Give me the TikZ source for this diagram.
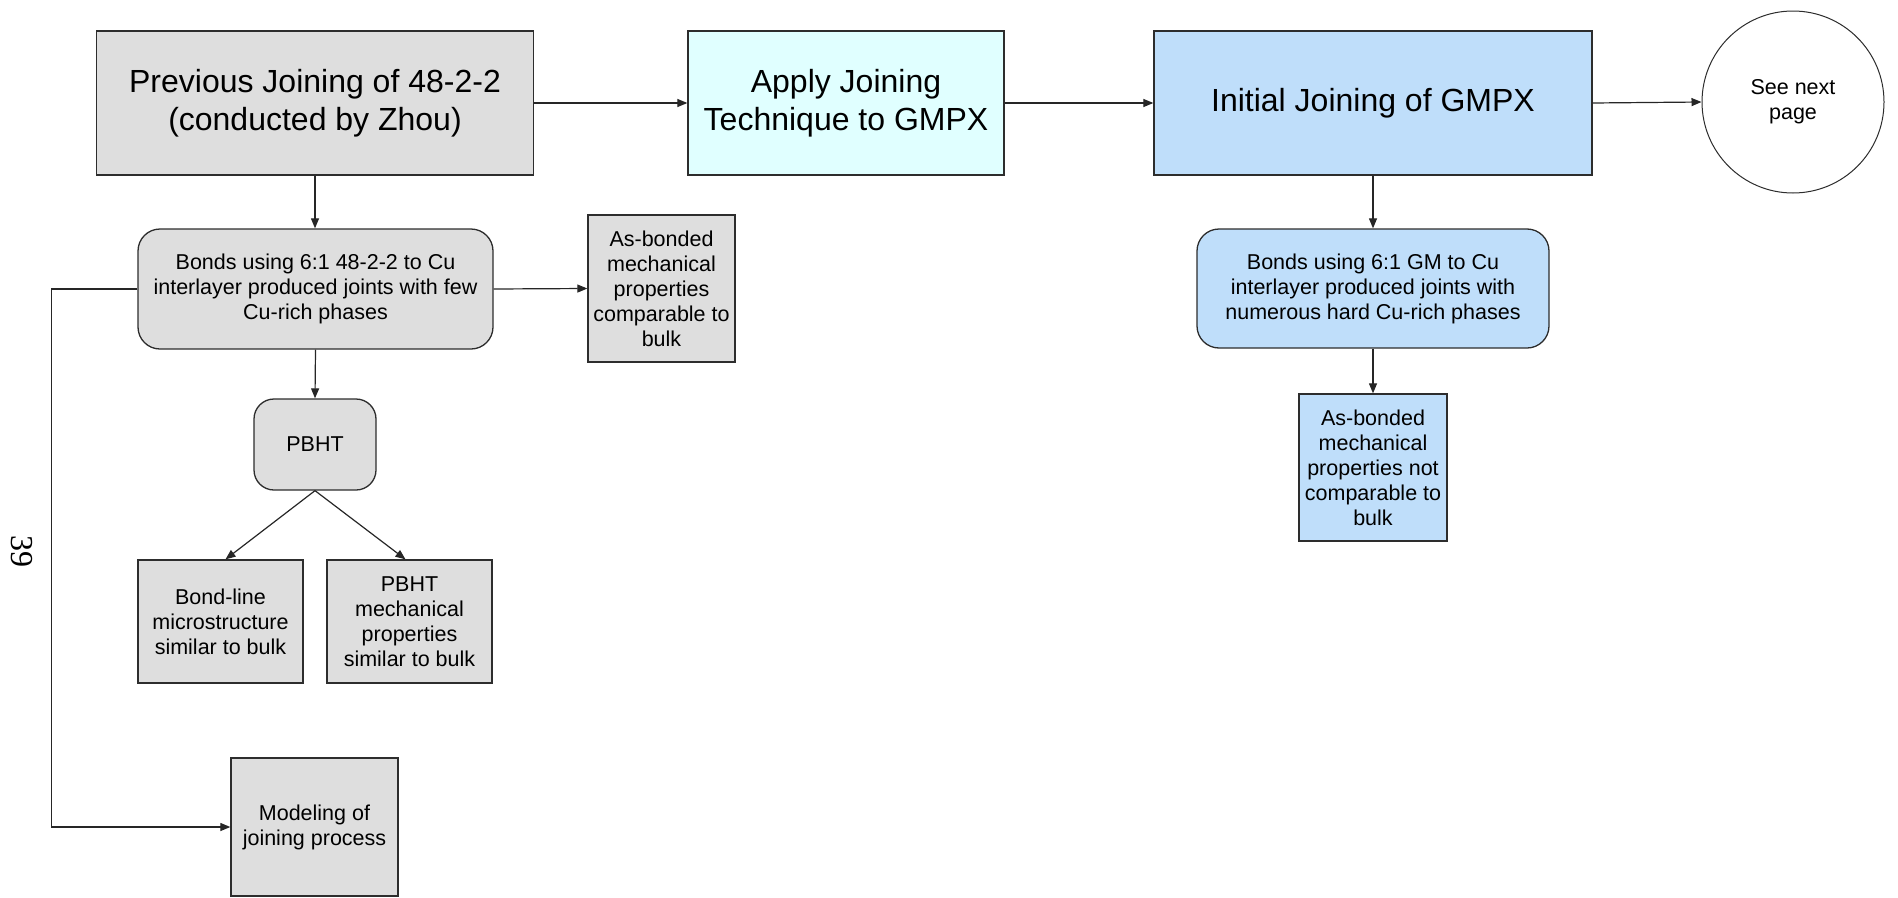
\documentclass[tikz,border=0pt]{standalone}
\usepackage{fontspec}
\setmainfont{Liberation Sans}
\newfontfamily\pagenumfont{Liberation Serif}
\usetikzlibrary{arrows.meta}
\definecolor{boxgray}{RGB}{222,222,222}
\definecolor{applycyan}{RGB}{224,255,255}
\definecolor{initblue}{RGB}{191,222,250}
\definecolor{edgegray}{RGB}{45,45,45}
\begin{document}
\begin{tikzpicture}[x=1pt,y=-1pt,
  box/.style={draw=edgegray, line width=1.3pt, fill=boxgray, align=center, inner sep=0pt, font=\fontsize{21.5}{25}\selectfont},
  bigbox/.style={box, font=\fontsize{32}{37.5}\selectfont},
  rbox/.style={box, rounded corners=22pt},
  arr/.style={-{Triangle[length=10pt,width=8pt]}, line width=1.2pt, draw=black!85}]
\useasboundingbox (0,0) rectangle (1898,897);

% top row
\node[bigbox, minimum width=437pt, minimum height=144pt] (prev) at (315,103) {Previous Joining of 48-2-2\\(conducted by Zhou)};
\node[bigbox, fill=applycyan, minimum width=316pt, minimum height=144pt] (apply) at (846,103) {Apply Joining\\Technique to GMPX};
\node[bigbox, fill=initblue, minimum width=438pt, minimum height=144pt] (init) at (1373,103) {Initial Joining of GMPX};
\node[circle, draw=edgegray, line width=1pt, fill=white, minimum size=182pt, inner sep=0pt, align=center, font=\fontsize{21.5}{25}\selectfont] (next) at (1793,102) {See next\\page};

% left branch
\node[rbox, minimum width=355pt, minimum height=120pt] (bondsL) at (315.5,289) {Bonds using 6:1 48-2-2 to Cu\\interlayer produced joints with few\\Cu-rich phases};
\node[box, minimum width=147pt, minimum height=147pt] (asbL) at (661.5,288.5) {As-bonded\\mechanical\\properties\\comparable to\\bulk};
\node[box, rounded corners=20pt, minimum width=122pt, minimum height=91pt] (pbht) at (315,444.5) {PBHT};
\node[box, minimum width=165pt, minimum height=123pt] (bondline) at (220.5,621.5) {Bond-line\\microstructure\\similar to bulk};
\node[box, minimum width=165pt, minimum height=123pt] (pbhtmech) at (409.5,621.5) {PBHT\\mechanical\\properties\\similar to bulk};
\node[box, minimum width=167pt, minimum height=138pt] (model) at (314.5,827) {Modeling of\\joining process};

% right branch
\node[rbox, fill=initblue, minimum width=352pt, minimum height=119pt] (bondsR) at (1373,288.5) {Bonds using 6:1 GM to Cu\\interlayer produced joints with\\numerous hard Cu-rich phases};
\node[box, fill=initblue, minimum width=148pt, minimum height=147pt] (asbR) at (1373,467.5) {As-bonded\\mechanical\\properties not\\comparable to\\bulk};

% page number
\node[rotate=-90, font=\pagenumfont\fontsize{32}{32}\selectfont, inner sep=0pt] (pg) at (22,551) {39};

% connectors
\draw[arr] (prev.east) -- (apply.west);
\draw[arr] (apply.east) -- (init.west);
\draw[arr] (init.east) -- (next.west);
\draw[arr] (prev.south) -- (prev.south |- bondsL.north);
\draw[arr] (bondsL.east) -- (asbL.west);
\draw[arr] (bondsL.south) -- (pbht.north);
\draw[arr] (pbht.south) -- ([xshift=5pt]bondline.north);
\draw[arr] (pbht.south) -- ([xshift=-4pt]pbhtmech.north);
\draw[arr] (bondsL.west) -- ++(-86,0) |- (model.west);
\draw[arr] (init.south) -- (bondsR.north);
\draw[arr] (bondsR.south) -- (asbR.north);
\end{tikzpicture}
\end{document}
